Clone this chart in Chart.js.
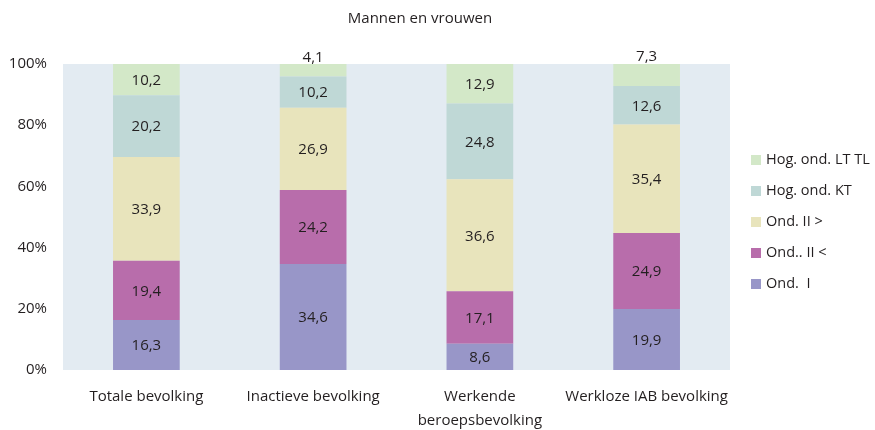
<!DOCTYPE html>
<html><head><meta charset="utf-8">
<script src="https://cdn.jsdelivr.net/npm/chart.js@4/dist/chart.umd.min.js"></script>
<style>html,body{margin:0;padding:0;background:#fff}#wrap{width:875px;height:430px}</style>
</head><body><div id="wrap"><canvas id="c" width="875" height="430"></canvas></div>
<script>
const categories = ["Totale bevolking", "Inactieve bevolking", ["Werkende", "beroepsbevolking"], "Werkloze IAB bevolking"];
const ondI = [16.3, 34.6, 8.6, 19.9];
const ondIIlow = [19.4, 24.2, 17.1, 24.9];
const ondIIhigh = [33.9, 26.9, 36.6, 35.4];
const hogKT = [20.2, 10.2, 24.8, 12.6];
const hogLT = [10.2, 4.1, 12.9, 7.3];
const seriesNames = ["Ond.  I", "Ond.. II <", "Ond. II >", "Hog. ond. KT", "Hog. ond. LT TL"];
const colors = ["#9896c8", "#b86dab", "#e8e4bc", "#bfd8d6", "#d3e8c8"];
const yTicks = [0, 20, 40, 60, 80, 100];
const FONT = "'Open Sans', sans-serif";
const TXT = "#231f20";

const fmt = v => v.toFixed(1).replace('.', ',');

const bgPlugin = {
  id: 'bg',
  beforeDraw(chart) {
    const {ctx, chartArea: a} = chart;
    ctx.save(); ctx.fillStyle = '#e3ebf2';
    ctx.fillRect(a.left, a.top, a.right - a.left, a.bottom - a.top);
    ctx.restore();
  },
  afterDatasetsDraw(chart) {
    const ctx = chart.ctx;
    ctx.save();
    ctx.font = "15px " + FONT; ctx.fillStyle = TXT;
    ctx.textAlign = 'center'; ctx.textBaseline = 'middle';
    const n = chart.data.datasets.length;
    chart.data.datasets.forEach((ds, di) => {
      const meta = chart.getDatasetMeta(di);
      meta.data.forEach((bar, i) => {
        const v = ds.data[i];
        if (di === n - 1 && v < 8) {
          ctx.textBaseline = 'bottom';
          ctx.fillText(fmt(v), bar.x, bar.y + 1);
          ctx.textBaseline = 'middle';
        } else {
          ctx.fillText(fmt(v), bar.x, (bar.y + bar.base) / 2 + 1);
        }
      });
    });
    // title
    ctx.font = "15px " + FONT; ctx.textBaseline = 'middle';
    ctx.fillText("Mannen en vrouwen", 420, 19);
    // legend
    ctx.textAlign = 'left';
    ctx.font = "14.5px " + FONT;
    for (let k = 0; k < n; k++) {
      const di = n - 1 - k;
      const y = 160 + k * 31;
      ctx.fillStyle = colors[di];
      ctx.fillRect(751, y - 5, 10, 10);
      ctx.fillStyle = TXT;
      ctx.fillText(seriesNames[di], 766, y);
    }
    ctx.restore();
  }
};

const dataArrs = [ondI, ondIIlow, ondIIhigh, hogKT, hogLT];
new Chart(document.getElementById('c'), {
  type: 'bar',
  data: {
    labels: categories,
    datasets: dataArrs.map((d, i) => ({
      label: seriesNames[i], data: d, backgroundColor: colors[i],
      borderWidth: 0, barPercentage: 0.4, categoryPercentage: 1
    }))
  },
  options: {
    responsive: false, animation: false,
    layout: {padding: {left: 0, right: 145, top: 64, bottom: 0}},
    plugins: {legend: {display: false}, title: {display: false}, tooltip: {enabled: false}},
    scales: {
      x: {
        stacked: true,
        grid: {display: false, drawTicks: false},
        border: {display: false},
        ticks: {color: TXT, font: {family: FONT, size: 15, lineHeight: 1.6}, padding: 15, maxRotation: 0, autoSkip: false},
        afterFit(s) { s.height = 60; }
      },
      y: {
        stacked: true, min: 0, max: 100,
        afterBuildTicks(s) { s.ticks = yTicks.map(v => ({value: v})); },
        grid: {display: false, drawTicks: false},
        border: {display: false},
        ticks: {color: TXT, font: {family: FONT, size: 15}, padding: 16, callback: v => v + '%'},
        afterFit(s) { s.width = 63; }
      }
    }
  },
  plugins: [bgPlugin]
});
</script></body></html>
